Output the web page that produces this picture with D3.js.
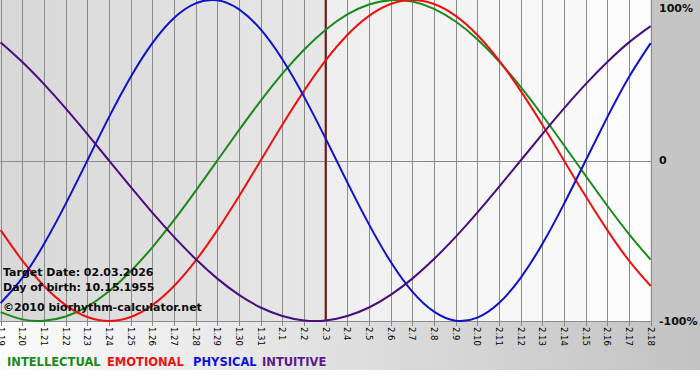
<!DOCTYPE html>
<html>
<head>
<meta charset="utf-8">
<script src="https://cdn.jsdelivr.net/npm/d3@7"></script>
<style>
  html, body { margin: 0; padding: 0; background: #ffffff; }
  svg { display: block; }
</style>
</head>
<body>
<svg id="chart" width="700" height="380"></svg>
<script>
// ---- data ----
const dates = ["1.19","1.20","1.21","1.22","1.23","1.24","1.25","1.26","1.27","1.28","1.29","1.30","1.31",
  "2.1","2.2","2.3","2.4","2.5","2.6","2.7","2.8","2.9","2.10","2.11","2.12","2.13","2.14","2.15","2.16","2.17","2.18"];
const targetIndex = 15;

const physical = [-0.888,-0.731,-0.520,-0.270,0.000,0.270,0.520,0.731,0.888,0.979,0.998,0.942,0.817,0.631,0.398,0.136,
  -0.136,-0.398,-0.631,-0.817,-0.942,-0.998,-0.979,-0.888,-0.731,-0.520,-0.270,0.000,0.270,0.520,0.731];
const emotional = [-0.434,-0.624,-0.782,-0.901,-0.975,-1.000,-0.975,-0.901,-0.782,-0.624,-0.434,-0.223,0.000,0.223,0.434,0.624,
  0.782,0.901,0.975,1.000,0.975,0.901,0.782,0.624,0.434,0.223,0.000,-0.223,-0.434,-0.624,-0.782];
const intellectual = [-0.945,-0.990,-0.999,-0.972,-0.910,-0.815,-0.690,-0.541,-0.372,-0.189,0.000,0.189,0.372,0.541,0.690,0.815,
  0.910,0.972,0.999,0.990,0.945,0.866,0.756,0.618,0.458,0.282,0.095,-0.095,-0.282,-0.458,-0.618];
const intuitive = [0.736,0.614,0.476,0.325,0.165,0.000,-0.165,-0.325,-0.476,-0.614,-0.736,-0.837,-0.916,-0.969,-0.997,-0.997,
  -0.969,-0.916,-0.837,-0.736,-0.614,-0.476,-0.325,-0.165,0.000,0.165,0.325,0.476,0.614,0.736,0.837];

const yTickValues = [1, 0, -1];
const yTickLabels = ["100%", "0", "-100%"];

const seriesNames = ["INTELLECTUAL", "EMOTIONAL", "PHYSICAL", "INTUITIVE"];
const seriesColors = ["#1a8a1a", "#ee1111", "#1111cc", "#4a0d7e"];
const legendColors = ["#1a8a1a", "#ee1111", "#1111dd", "#5a1a8e"];
const infoLines = ["Target Date: 02.03.2026", "Day of birth: 10.15.1955", "\u00a92010 biorhythm-calculator.net"];

// ---- drawing ----
const svg = d3.select("#chart");
const W = 700, H = 380;
const plotL = 0.67, plotR = 650.67, plotT = 0, plotB = 321;

const x = d3.scaleLinear().domain([0, dates.length - 1]).range([plotL, plotR]);
const y = d3.scaleLinear().domain([-1, 1]).range([plotB, plotT]);

const defs = svg.append("defs");
const gOuter = defs.append("linearGradient").attr("id", "gOuter").attr("x1", "0").attr("x2", "1").attr("y1", "0").attr("y2", "0");
gOuter.append("stop").attr("offset", "0").attr("stop-color", "#fbfbfb");
gOuter.append("stop").attr("offset", "1").attr("stop-color", "#c2c2c2");
const gLeft = defs.append("linearGradient").attr("id", "gLeft").attr("x1", "0").attr("x2", "1").attr("y1", "0").attr("y2", "0");
gLeft.append("stop").attr("offset", "0").attr("stop-color", "#d8d8d8");
gLeft.append("stop").attr("offset", "1").attr("stop-color", "#e7e7e7");
const gRight = defs.append("linearGradient").attr("id", "gRight").attr("x1", "0").attr("x2", "1").attr("y1", "0").attr("y2", "0");
gRight.append("stop").attr("offset", "0").attr("stop-color", "#eeeeee");
gRight.append("stop").attr("offset", "1").attr("stop-color", "#fdfdfd");

// outer background
svg.append("rect").attr("x", 0).attr("y", 0).attr("width", W).attr("height", 370).attr("fill", "url(#gOuter)");
svg.append("rect").attr("x", plotR).attr("y", 0).attr("width", W - plotR).attr("height", plotB).attr("fill", "#c5c5c5");

// plot backgrounds
svg.append("rect").attr("x", 0).attr("y", plotT).attr("width", x(targetIndex)).attr("height", plotB - plotT).attr("fill", "url(#gLeft)");
svg.append("rect").attr("x", x(targetIndex)).attr("y", plotT).attr("width", plotR - x(targetIndex)).attr("height", plotB - plotT).attr("fill", "url(#gRight)");

// grid lines
const idx = d3.range(dates.length);
svg.append("g").selectAll("line").data(idx).join("line")
  .attr("x1", d => Math.round(x(d)) + 0.5).attr("x2", d => Math.round(x(d)) + 0.5)
  .attr("y1", plotT).attr("y2", plotB + 5)
  .attr("stroke", "#8a8a8a").attr("stroke-width", 1);
// zero line and bottom line
svg.append("line").attr("x1", 0).attr("x2", Math.round(plotR) + 1)
  .attr("y1", Math.round(y(0)) + 0.5).attr("y2", Math.round(y(0)) + 0.5)
  .attr("stroke", "#8a8a8a");
svg.append("line").attr("x1", 0).attr("x2", Math.round(plotR) + 1)
  .attr("y1", plotB + 0.5).attr("y2", plotB + 0.5)
  .attr("stroke", "#8a8a8a");

// x labels (rotated)
svg.append("g").selectAll("text").data(idx).join("text")
  .attr("transform", d => `translate(${x(d)},${plotB + 6}) rotate(90)`)
  .attr("dy", "0.35em")
  .attr("font-family", "DejaVu Sans, Verdana, sans-serif")
  .attr("font-size", "8.5px")
  .attr("fill", "#000")
  .text(d => dates[d]);

// y labels
svg.append("g").selectAll("text").data(yTickValues).join("text")
  .attr("x", 659)
  .attr("y", d => Math.min(Math.max(y(d), 8), plotB + 2))
  .attr("dy", "0.36em")
  .attr("font-family", "DejaVu Sans, Verdana, sans-serif")
  .attr("font-weight", "bold")
  .attr("font-size", "11px")
  .attr("fill", "#111")
  .text((d, i) => yTickLabels[i]);

// target line
svg.append("line").attr("x1", x(targetIndex)).attr("x2", x(targetIndex))
  .attr("y1", plotT).attr("y2", plotB)
  .attr("stroke", "#751616").attr("stroke-width", 2);

// curves
const series = [intellectual, emotional, physical, intuitive];
const line = d3.line().x((d, i) => x(i)).y(d => y(d)).curve(d3.curveNatural);
svg.append("g").selectAll("path").data(series).join("path")
  .attr("d", d => line(d))
  .attr("fill", "none")
  .attr("stroke", (d, i) => seriesColors[i])
  .attr("stroke-width", 2);

// info text
const infoY = [276, 291, 311];
svg.append("g").selectAll("text").data(infoLines).join("text")
  .attr("x", 3).attr("y", (d, i) => infoY[i])
  .attr("font-family", "DejaVu Sans, Verdana, sans-serif")
  .attr("font-weight", "bold")
  .attr("font-size", "11px")
  .attr("fill", "#0a0a0a")
  .text(d => d);

// legend
const legendX = [7, 107, 193, 262];
svg.append("g").selectAll("text").data(seriesNames).join("text")
  .attr("x", (d, i) => legendX[i]).attr("y", 366)
  .attr("font-family", "DejaVu Sans, Verdana, sans-serif")
  .attr("font-weight", "bold")
  .attr("font-size", "11.5px")
  .attr("fill", (d, i) => legendColors[i])
  .text(d => d);
</script>
</body>
</html>
